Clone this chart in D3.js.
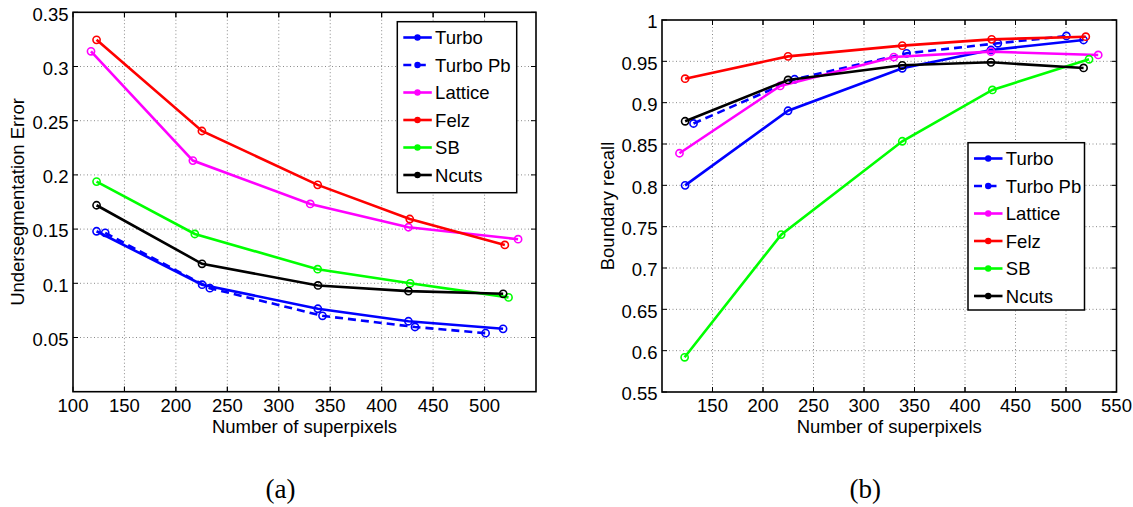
<!DOCTYPE html>
<html>
<head>
<meta charset="utf-8">
<script src="https://cdn.jsdelivr.net/npm/d3@7"></script>
<style>
  body { margin: 0; background: #fff; }
  svg { display: block; }
  text { font-family: "Liberation Sans", Arial, sans-serif; fill: #000; }
</style>
</head>
<body>
<svg id="fig" width="1133" height="507"></svg>
<script>
// series names / colours (MATLAB defaults)
const seriesNames = ["Turbo", "Turbo Pb", "Lattice", "Felz", "SB", "Ncuts"];
const seriesColors = ["#0000ff", "#0000ff", "#ff00ff", "#ff0000", "#00ff00", "#000000"];
const seriesDashed = [false, true, false, false, false, false];

// (a) undersegmentation error : [superpixels, error]
const ueTurbo   = [[122.9, 0.148], [225.5, 0.0987], [338, 0.0765], [426, 0.065], [518, 0.058]];
const ueTurboPb = [[131.3, 0.1465], [233, 0.0955], [342.5, 0.070], [432.4, 0.0597], [501, 0.054]];
const ueLattice = [[117.5, 0.314], [216.5, 0.2132], [330.6, 0.1732], [426, 0.1517], [532.6, 0.1407]];
const ueFelz    = [[122.9, 0.3246], [225.3, 0.2405], [337.8, 0.1908], [427.3, 0.1593], [519.7, 0.1354]];
const ueSB      = [[122.9, 0.1938], [218.4, 0.1455], [337.8, 0.113], [427.7, 0.1], [523.3, 0.087]];
const ueNcuts   = [[122.9, 0.172], [225.4, 0.118], [338.1, 0.098], [426, 0.0928], [518.1, 0.0903]];

// (b) boundary recall : [superpixels, recall]
const brTurbo   = [[122.9, 0.80], [224.8, 0.8902], [337.9, 0.9416], [425.7, 0.9637], [517.4, 0.9758]];
const brTurboPb = [[131.2, 0.8748], [231.3, 0.9283], [342.2, 0.9597], [432.5, 0.9718], [500.4, 0.9807]];
const brLattice = [[117.3, 0.8388], [217, 0.9203], [329.5, 0.9552], [425.7, 0.9617], [531.9, 0.9577]];
const brFelz    = [[122.9, 0.929], [224.8, 0.956], [337.9, 0.969], [426.4, 0.9766], [519.6, 0.9798]];
const brSB      = [[122.4, 0.592], [218, 0.7404], [337.9, 0.8533], [427.1, 0.9154], [522.8, 0.9525]];
const brNcuts   = [[122.9, 0.8775], [224.8, 0.9275], [337.9, 0.9452], [425.7, 0.9488], [517.4, 0.942]];

// ticks
const ueXTicks = [100, 150, 200, 250, 300, 350, 400, 450, 500];
const ueYTicks = [0.05, 0.1, 0.15, 0.2, 0.25, 0.3, 0.35];
const brXTicks = [150, 200, 250, 300, 350, 400, 450, 500, 550];
const brYTicks = [0.55, 0.6, 0.65, 0.7, 0.75, 0.8, 0.85, 0.9, 0.95, 1];
const gridX = [150, 200, 250, 300, 350, 400, 450, 500];

const svg = d3.select("#fig");

function drawPanel(p) {
  const x = d3.scaleLinear().domain(p.xDomain).range(p.xRange);
  const y = d3.scaleLinear().domain(p.yDomain).range(p.yRange);
  const g = svg.append("g");
  const [x0, x1] = p.xRange, [y0, y1] = p.yRange;   // y0 bottom, y1 top

  // dotted grid
  g.selectAll("line.gx").data(gridX).enter().append("line")
    .attr("x1", d => x(d)).attr("x2", d => x(d)).attr("y1", y0).attr("y2", y1)
    .attr("stroke", "#8a8a8a").attr("stroke-width", 1).attr("stroke-dasharray", "1,2.5");
  g.selectAll("line.gy").data(p.gridY).enter().append("line")
    .attr("y1", d => y(d)).attr("y2", d => y(d)).attr("x1", x0).attr("x2", x1)
    .attr("stroke", "#8a8a8a").attr("stroke-width", 1).attr("stroke-dasharray", "1,2.5");

  // inward ticks on all four sides
  const tl = 5;
  p.xTicks.concat(gridX).forEach(d => {
    g.append("line").attr("x1", x(d)).attr("x2", x(d)).attr("y1", y0).attr("y2", y0 - tl).attr("stroke", "#000");
    g.append("line").attr("x1", x(d)).attr("x2", x(d)).attr("y1", y1).attr("y2", y1 + tl).attr("stroke", "#000");
  });
  p.yTicks.forEach(d => {
    g.append("line").attr("y1", y(d)).attr("y2", y(d)).attr("x1", x0).attr("x2", x0 + tl).attr("stroke", "#000");
    g.append("line").attr("y1", y(d)).attr("y2", y(d)).attr("x1", x1).attr("x2", x1 - tl).attr("stroke", "#000");
  });

  // tick labels
  g.selectAll("text.xt").data(p.xTicks).enter().append("text")
    .attr("x", d => x(d)).attr("y", y0 + 19.8).attr("text-anchor", "middle")
    .style("font-size", "18.5px").text(d => d);
  g.selectAll("text.yt").data(p.yTicks).enter().append("text")
    .attr("x", x0 - 4.5).attr("y", d => y(d)).attr("dy", "0.45em").attr("text-anchor", "end")
    .style("font-size", "18.5px").text(d => String(+d.toFixed(2)));

  // axis titles
  g.append("text").attr("x", (x0 + x1) / 2).attr("y", y0 + 40.8).attr("text-anchor", "middle")
    .style("font-size", "18.5px").text("Number of superpixels");
  g.append("text").attr("transform", `translate(${p.yLabelX},${(y0 + y1) / 2}) rotate(-90)`)
    .attr("text-anchor", "middle").style("font-size", "18.5px").text(p.yLabel);

  // series
  const line = d3.line().x(d => x(d[0])).y(d => y(d[1]));
  p.series.forEach((s, i) => {
    g.append("path").attr("d", line(s)).attr("fill", "none")
      .attr("stroke", seriesColors[i]).attr("stroke-width", 2.6)
      .attr("stroke-dasharray", seriesDashed[i] ? "8,5" : null);
    g.selectAll(null).data(s).enter().append("circle")
      .attr("cx", d => x(d[0])).attr("cy", d => y(d[1])).attr("r", 3.6)
      .attr("fill", "none").attr("stroke", seriesColors[i]).attr("stroke-width", 1.6);
  });

  // frame
  g.append("rect").attr("x", x0).attr("y", y1).attr("width", x1 - x0).attr("height", y0 - y1)
    .attr("fill", "none").attr("stroke", "#000").attr("stroke-width", 1.6);

  // legend
  const L = p.legend;
  const lg = g.append("g").attr("transform", `translate(${L.x},${L.y})`);
  lg.append("rect").attr("width", L.w).attr("height", L.h)
    .attr("fill", "#fff").attr("stroke", "#000").attr("stroke-width", 1.5);
  seriesNames.forEach((name, i) => {
    const yy = 15.8 + i * 27.5;
    lg.append("line").attr("x1", 6).attr("x2", 34.5).attr("y1", yy).attr("y2", yy)
      .attr("stroke", seriesColors[i]).attr("stroke-width", 2.6)
      .attr("stroke-dasharray", seriesDashed[i] ? "8,6.5" : null);
    lg.append("circle").attr("cx", 20.2).attr("cy", yy).attr("r", 3.2).attr("fill", seriesColors[i]);
    lg.append("text").attr("x", 37.8).attr("y", yy).attr("dy", "0.36em")
      .style("font-size", "18.5px").text(name);
  });

  // caption
  svg.append("text").attr("x", (x0 + x1) / 2 - 24).attr("y", 498).attr("text-anchor", "middle")
    .style("font-family", "'Liberation Serif', 'Times New Roman', serif").style("font-size", "27px")
    .text(p.caption);
}

drawPanel({
  xDomain: [100, 550], yDomain: [0, 0.35],
  xRange: [73, 536], yRange: [391.7, 12.3],
  xTicks: ueXTicks, yTicks: ueYTicks, gridY: [0.05, 0.1, 0.15, 0.2, 0.25, 0.3],
  yLabel: "Undersegmentation Error", yLabelX: 23.5,
  series: [ueTurbo, ueTurboPb, ueLattice, ueFelz, ueSB, ueNcuts],
  legend: {x: 397.3, y: 21.7, w: 119.4, h: 171},
  caption: "(a)"
});

drawPanel({
  xDomain: [100, 550], yDomain: [0.55, 1],
  xRange: [662, 1116.5], yRange: [392, 20],
  xTicks: brXTicks, yTicks: brYTicks, gridY: [0.6, 0.65, 0.7, 0.75, 0.8, 0.85, 0.9, 0.95],
  yLabel: "Boundary recall", yLabelX: 613.5,
  series: [brTurbo, brTurboPb, brLattice, brFelz, brSB, brNcuts],
  legend: {x: 968, y: 142.7, w: 116.5, h: 167.3},
  caption: "(b)"
});
</script>
</body>
</html>
